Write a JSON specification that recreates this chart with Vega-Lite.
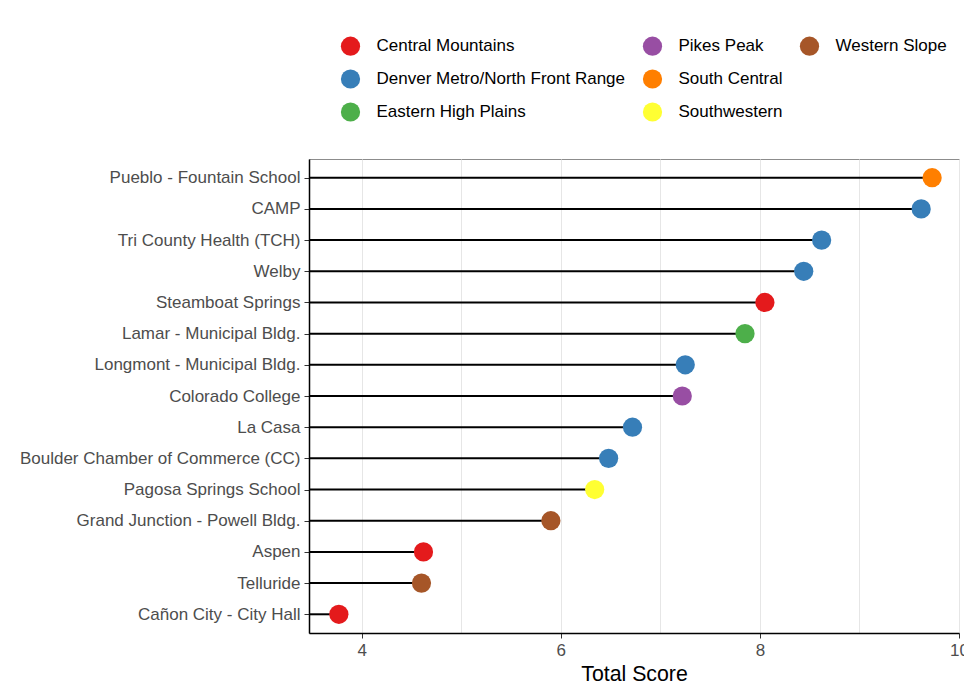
{
  "$schema": "https://vega.github.io/schema/vega-lite/v6.json",
  "width": 650,
  "height": 474,
  "autosize": {"type": "none"},
  "padding": {"left": 309, "top": 159, "right": 5, "bottom": 60},
  "background": "white",
  "config": {
    "font": "Liberation Sans",
    "view": {"stroke": "#8c8c8c", "strokeWidth": 1}
  },
  "data": {
    "values": [
      {"site": "Pueblo - Fountain School", "region": "South Central", "score": 9.73},
      {"site": "CAMP", "region": "Denver Metro/North Front Range", "score": 9.62},
      {"site": "Tri County Health (TCH)", "region": "Denver Metro/North Front Range", "score": 8.62},
      {"site": "Welby", "region": "Denver Metro/North Front Range", "score": 8.44},
      {"site": "Steamboat Springs", "region": "Central Mountains", "score": 8.05},
      {"site": "Lamar - Municipal Bldg.", "region": "Eastern High Plains", "score": 7.85},
      {"site": "Longmont - Municipal Bldg.", "region": "Denver Metro/North Front Range", "score": 7.25},
      {"site": "Colorado College", "region": "Pikes Peak", "score": 7.22},
      {"site": "La Casa", "region": "Denver Metro/North Front Range", "score": 6.72},
      {"site": "Boulder Chamber of Commerce (CC)", "region": "Denver Metro/North Front Range", "score": 6.48},
      {"site": "Pagosa Springs School", "region": "Southwestern", "score": 6.34},
      {"site": "Grand Junction - Powell Bldg.", "region": "Western Slope", "score": 5.9},
      {"site": "Aspen", "region": "Central Mountains", "score": 4.62},
      {"site": "Telluride", "region": "Western Slope", "score": 4.6},
      {"site": "Cañon City - City Hall", "region": "Central Mountains", "score": 3.77}
    ]
  },
  "encoding": {
    "y": {
      "field": "site",
      "type": "nominal",
      "sort": null,
      "scale": {"type": "point", "padding": 0.6},
      "axis": {
        "title": null,
        "labelFontSize": 17,
        "labelColor": "#4d4d4d",
        "labelLimit": 400,
        "tickSize": 5,
        "tickColor": "#333333",
        "labelPadding": 4,
        "domainColor": "black",
        "domainWidth": 1.5,
        "grid": false
      }
    }
  },
  "layer": [
    {
      "mark": {"type": "rule", "color": "black", "strokeWidth": 2},
      "encoding": {
        "x": {
          "field": "score",
          "type": "quantitative",
          "scale": {"domain": [3.47, 10], "nice": false, "zero": false},
          "axis": {
            "values": [4, 5, 6, 7, 8, 9, 10],
            "format": "d",
            "labelExpr": "datum.value % 2 == 0 ? datum.label : ''",
            "tickOpacity": {"condition": {"test": "datum.value % 2 == 1", "value": 0}, "value": 1},
            "labelFlush": false,
            "labelOverlap": false,
            "title": "Total Score",
            "titleFontSize": 21.3,
            "titleColor": "black",
            "titleFontWeight": "normal",
            "titlePadding": 5,
            "labelFontSize": 17,
            "labelColor": "#4d4d4d",
            "labelPadding": 4,
            "tickSize": 5,
            "tickColor": "#333333",
            "domainColor": "black",
            "domainWidth": 1.5,
            "gridColor": "#e6e6e6",
            "gridWidth": 1
          }
        },
        "x2": {"datum": 3.47}
      }
    },
    {
      "mark": {"type": "circle", "size": 370, "opacity": 1},
      "encoding": {
        "x": {"field": "score", "type": "quantitative"},
        "color": {
          "field": "region",
          "type": "nominal",
          "scale": {
            "domain": ["Central Mountains", "Denver Metro/North Front Range", "Eastern High Plains", "Pikes Peak", "South Central", "Southwestern", "Western Slope", " "],
            "range": ["#E41A1C", "#377EB8", "#4DAF4A", "#984EA3", "#FF7F00", "#FFFF33", "#A65628", "rgba(0,0,0,0)"]
          },
          "legend": {
            "orient": "none",
            "legendX": 31.5,
            "legendY": -123,
            "columns": 3,
            "values": ["Central Mountains", "Denver Metro/North Front Range", "Eastern High Plains", "Pikes Peak", "South Central", "Southwestern", "Western Slope", " "],
            "labelExpr": "datum.label == ' ' ? '' : datum.label",
            "title": null,
            "symbolType": "circle",
            "symbolSize": 370,
            "symbolStrokeWidth": 0,
            "labelFontSize": 17,
            "labelColor": "black",
            "labelLimit": 400,
            "labelOffset": 16,
            "columnPadding": 17,
            "rowPadding": 13
          }
        }
      }
    }
  ]
}
